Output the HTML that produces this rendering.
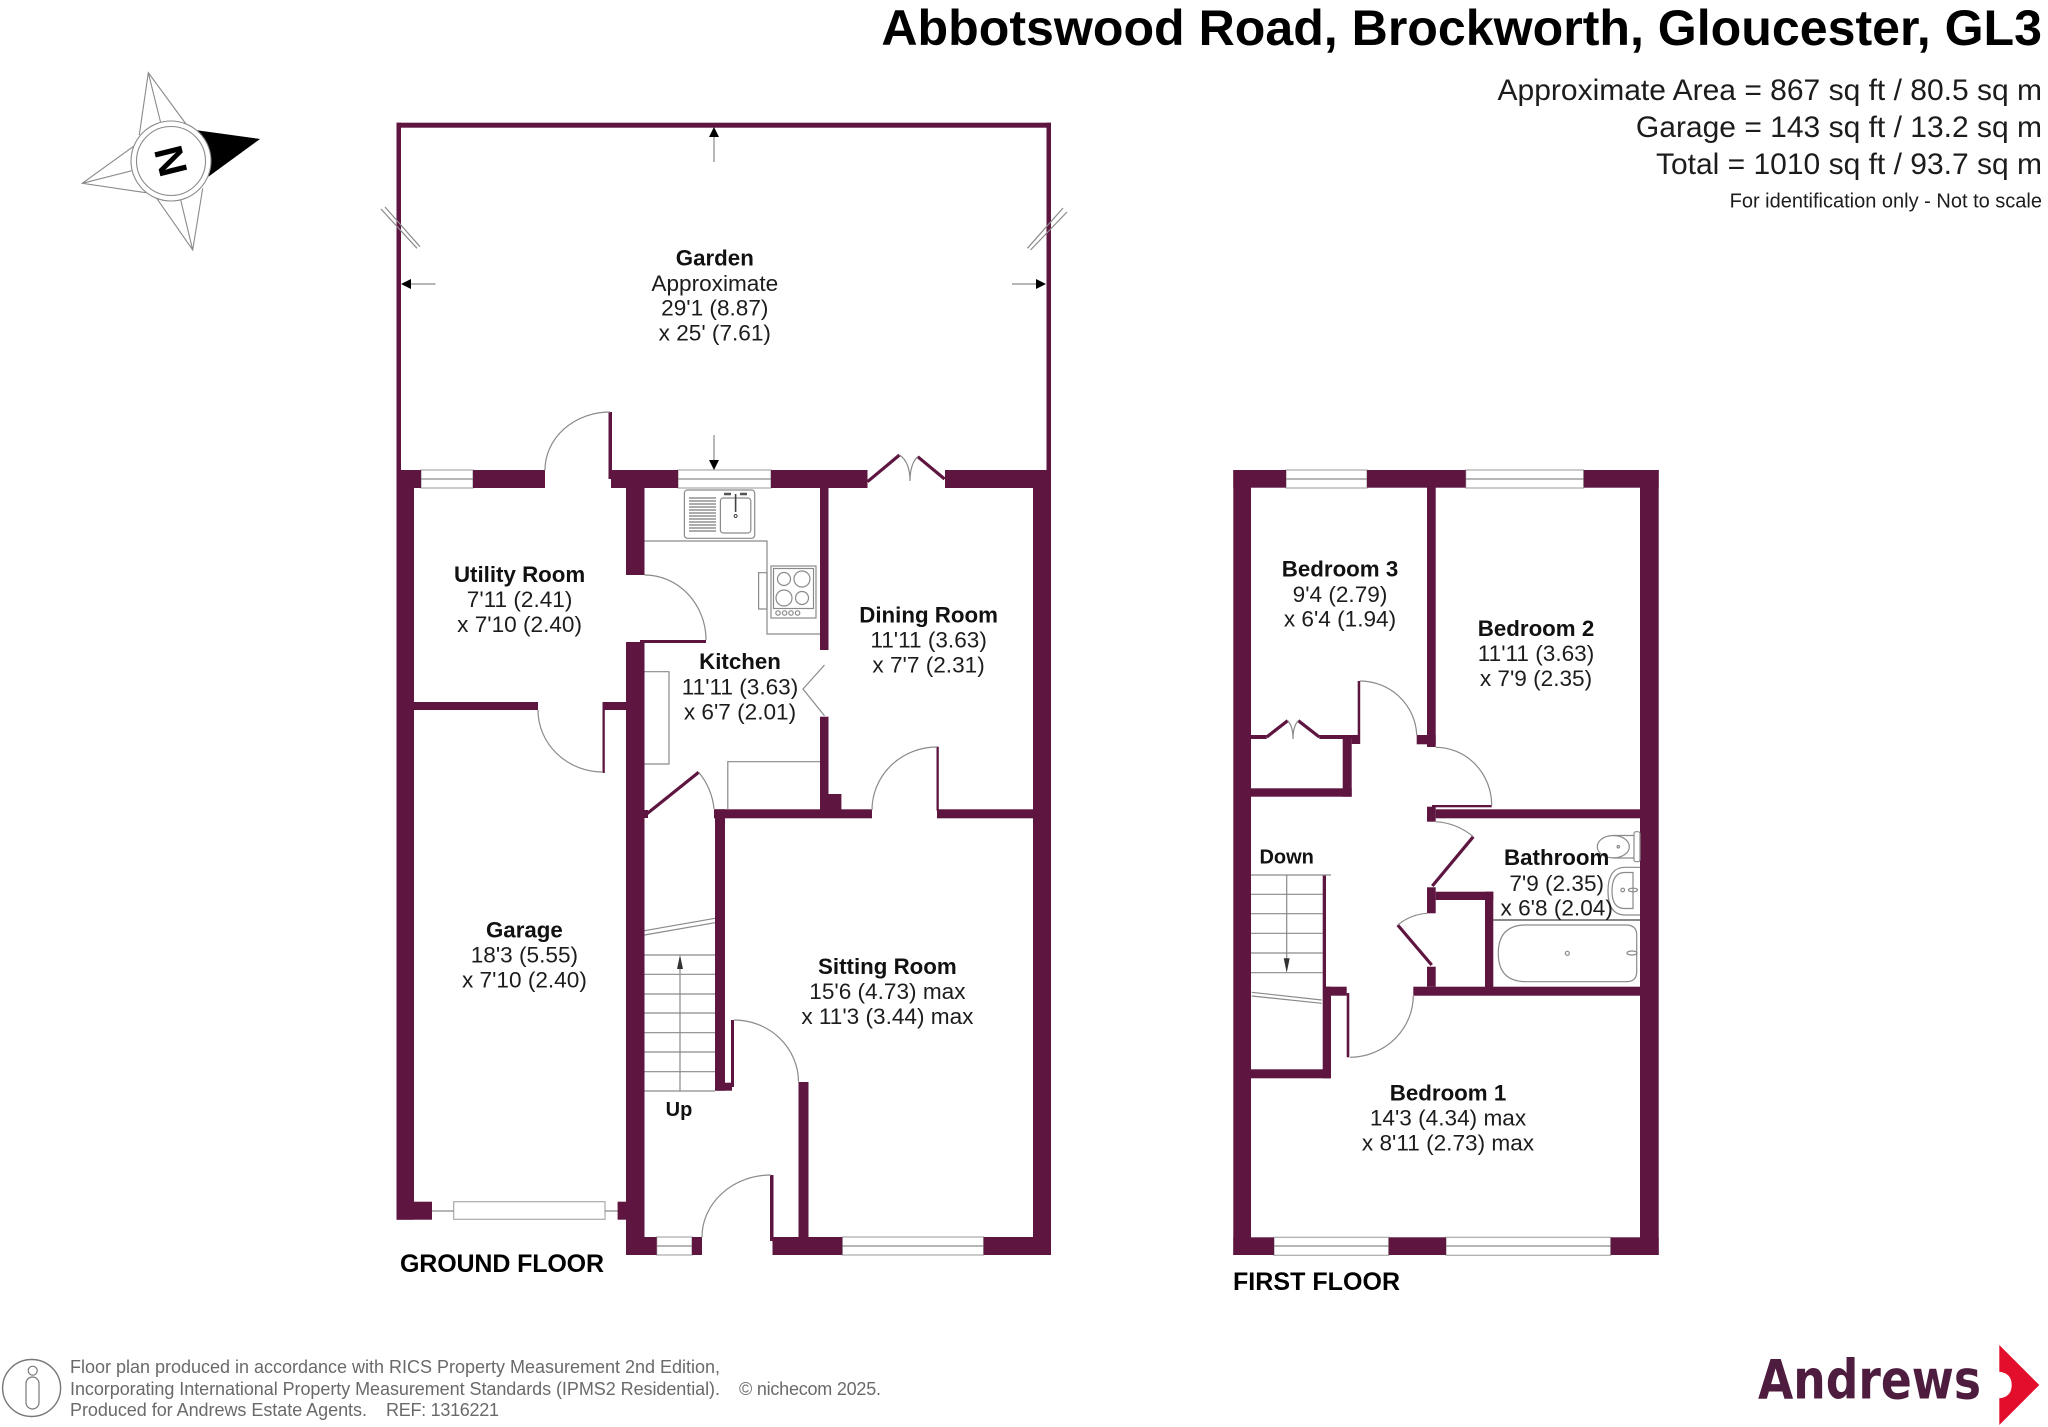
<!DOCTYPE html>
<html>
<head>
<meta charset="utf-8">
<style>
html,body{margin:0;padding:0;background:#fff}
svg{display:block}
text{font-family:"Liberation Sans",sans-serif;fill:#1c1c1c}
.r{font-size:22.6px;text-anchor:middle}
.b{font-size:22.3px;font-weight:bold;text-anchor:middle;fill:#111}
.w rect,.w path.f{fill:#5e1540}
.t{fill:none;stroke:#8a8a8a;stroke-width:1.2}
.w2{fill:#fff;stroke:#aaa;stroke-width:1.2}
.d{fill:none;stroke:#5e1540;stroke-width:3.2}
.g{fill:#6a6a6a;font-size:18px}
</style>
</head>
<body>
<svg width="2048" height="1427" viewBox="0 0 2048 1427" xmlns="http://www.w3.org/2000/svg">
<rect width="2048" height="1427" fill="#fff"/>

<!-- Title -->
<text x="2042" y="45" text-anchor="end" font-size="50.100" font-weight="bold" style="fill:#000">Abbotswood Road, Brockworth, Gloucester, GL3</text>
<text x="2042" y="100" text-anchor="end" font-size="30">Approximate Area = 867 sq ft / 80.5 sq m</text>
<text x="2042" y="137" text-anchor="end" font-size="30">Garage = 143 sq ft / 13.2 sq m</text>
<text x="2042" y="174" text-anchor="end" font-size="30">Total = 1010 sq ft / 93.7 sq m</text>
<text x="2042" y="207.500" text-anchor="end" font-size="20">For identification only - Not to scale</text>

<!-- Compass -->
<g>
<path d="M195 130L260 139L208.300 176.700Z" fill="#000"/>
<g fill="#fff" stroke="#8a8a8a" stroke-width="1.1">
<path d="M139.300 135L148.300 72.700L186 124M148.300 72.700L160.700 122.700" fill="none"/>
<path d="M134 146L82.300 183.300L146 192.700M82.300 183.300L131.700 170.700" fill="none"/>
<path d="M156 197.300L192.700 250L202.700 188.300M192.700 250L180.700 200" fill="none"/>
<circle cx="171" cy="161" r="40"/>
<circle cx="171" cy="161" r="34.500"/>
</g>
<text transform="translate(171 161) rotate(76) scale(1.05 1)" y="14" text-anchor="middle" font-size="40" font-weight="bold" style="fill:#000">N</text>
</g>

<!-- Windows ground -->
<g class="w2">
<rect x="421" y="470" width="52" height="18"/>
<rect x="678" y="470" width="93" height="18"/>
<rect x="656.700" y="1237" width="35.300" height="18"/>
<rect x="842.300" y="1237" width="141.300" height="18"/>
<rect x="453.700" y="1201.700" width="151.300" height="17.600"/>
<!-- first floor windows -->
<rect x="1286" y="470" width="81" height="18"/>
<rect x="1465.700" y="470" width="118" height="18"/>
<rect x="1274" y="1237.300" width="114.700" height="18"/>
<rect x="1446" y="1237.300" width="164.700" height="18"/>
</g>
<path class="t" d="M421 479H473M678 479H771M656.700 1246H692M842.300 1246H983.600M432 1211H453.700M605 1211H618M1286 479H1367M1465.700 479H1583.700M1274 1246H1388.700M1446 1246H1610.700"/>

<!-- Walls ground -->
<g class="w">
<rect x="396.500" y="122.700" width="654.500" height="5"/>
<rect x="396.500" y="122.700" width="4.500" height="350"/>
<rect x="1046.500" y="122.700" width="4.500" height="350"/>
<rect x="396.500" y="470" width="24.500" height="18"/>
<rect x="473" y="470" width="72" height="18"/>
<rect x="611" y="470" width="67" height="18"/>
<rect x="771" y="470" width="96.500" height="18"/>
<rect x="945" y="470" width="106" height="18"/>
<rect x="396.500" y="470" width="17.500" height="749.700"/>
<rect x="396.500" y="1201.700" width="35.500" height="18"/>
<rect x="1033" y="470" width="18" height="785"/>
<rect x="626" y="475" width="18.500" height="100"/>
<rect x="626" y="642" width="18.500" height="613"/>
<rect x="608.500" y="412" width="3.500" height="67"/>
<rect x="640" y="640" width="66" height="3"/>
<rect x="414" y="702" width="124" height="8"/>
<rect x="603" y="702" width="24" height="8"/>
<rect x="602.500" y="702" width="2.300" height="71"/>
<rect x="820" y="488" width="8.500" height="162"/>
<rect x="820" y="716.700" width="8.500" height="94"/>
<rect x="820" y="794" width="21.400" height="18"/>
<rect x="714" y="809.300" width="158" height="9"/>
<rect x="937" y="809.300" width="96" height="9"/>
<rect x="936.500" y="746.700" width="2.300" height="64"/>
<rect x="715" y="809.300" width="10" height="281.400"/>
<rect x="715" y="1082.700" width="17" height="8"/>
<rect x="731" y="1020" width="3" height="67"/>
<rect x="798.500" y="1082" width="10" height="160"/>
<rect x="626" y="1237" width="30.700" height="18"/>
<rect x="692" y="1237" width="10" height="18"/>
<rect x="772.500" y="1237" width="69.800" height="18"/>
<rect x="983.600" y="1237" width="67.400" height="18"/>
<rect x="770" y="1175" width="3.500" height="66"/>
<rect x="617.600" y="1201.700" width="9.400" height="18"/>
<rect x="644.500" y="810" width="3.500" height="8"/>

<!-- Walls first floor -->
<rect x="1233.300" y="470" width="17.700" height="785"/>
<rect x="1640" y="470" width="18.700" height="785"/>
<rect x="1233.300" y="470" width="52.700" height="17.700"/>
<rect x="1367" y="470" width="98.700" height="17.700"/>
<rect x="1583.700" y="470" width="75" height="17.700"/>
<rect x="1233.300" y="1237.300" width="40.700" height="17.700"/>
<rect x="1388.700" y="1237.300" width="57.300" height="17.700"/>
<rect x="1610.700" y="1237.300" width="48" height="17.700"/>
<rect x="1427" y="487" width="8.700" height="260"/>
<rect x="1416.700" y="735" width="19" height="9.300"/>
<rect x="1357.700" y="681" width="2.500" height="63"/>
<rect x="1251" y="735" width="15.700" height="4"/>
<rect x="1319.300" y="735" width="38.700" height="4"/>
<rect x="1351.700" y="735" width="6.300" height="9"/>
<rect x="1342.700" y="735" width="9" height="61.700"/>
<rect x="1251" y="788.300" width="100.700" height="8.400"/>
<rect x="1432" y="805" width="59.700" height="2.300"/>
<rect x="1435.700" y="809.300" width="204.300" height="9"/>
<rect x="1427" y="806.700" width="8.700" height="15"/>
<rect x="1427" y="887.300" width="8.700" height="26"/>
<rect x="1435.700" y="891.700" width="57.600" height="8.300"/>
<rect x="1485" y="891.700" width="8.300" height="100"/>
<rect x="1427" y="966.700" width="8.700" height="20"/>
<rect x="1413.300" y="986.700" width="226.700" height="9"/>
<rect x="1346.700" y="993" width="2.600" height="64.300"/>
<rect x="1326" y="986.700" width="20.700" height="9"/>
<rect x="1322.700" y="986.700" width="8.300" height="91.600"/>
<rect x="1322.700" y="875" width="3.300" height="112"/>
<rect x="1251" y="1069.300" width="80" height="9"/>
</g>

<!-- Thick door leaves -->
<g class="d">
<path d="M867.500 481.700L899.500 455M917.700 456.700L944.600 479"/>
<path d="M645.400 815L698.700 772.300"/>
<path d="M1266.700 737L1287.700 720.700M1298.300 720.700L1319.300 737"/>
<path d="M1473.300 836.700L1432.300 886"/>
<path d="M1397.700 925L1431.700 965"/>
</g>

<!-- Arcs + thin lines -->
<g class="t">
<path d="M545 470A65 58 0 0 1 610 412"/>
<path d="M644.500 575A61.500 65 0 0 1 706 640"/>
<path d="M538 710A65 62 0 0 0 603 772"/>
<path d="M698.700 772.300A68 68 0 0 1 714 809"/>
<path d="M872 810A65 63 0 0 1 937 747"/>
<path d="M734 1020A64.500 62 0 0 1 798.500 1081.700"/>
<path d="M702 1237A69 62 0 0 1 771 1175"/>
<path d="M1360 681A57 56 0 0 1 1416.700 735"/>
<path d="M1435.700 747.300A56 58 0 0 1 1491.700 805"/>
<path d="M1435.700 821.700A65 65 0 0 1 1473.300 836.700"/>
<path d="M1427 913.300A52 52 0 0 0 1397.700 925"/>
<path d="M1413.300 995.700A64 62 0 0 1 1350 1057.300"/>
<path d="M899.500 455Q910 462 910 481M917.700 456.700Q910 464 910 481"/>
<path d="M1287.700 720.700Q1293 726 1293 739M1298.300 720.700Q1293 726 1293 739"/>
<!-- bifold -->
<path d="M824.500 665L803 689L824.500 715.700"/>
<!-- kitchen -->
<path d="M644.500 541H767V634H820"/>
<path d="M758.600 572.700H767V609H758.600Z"/>
<path d="M644.500 671.700H669V764H644.500"/>
<path d="M727.800 809V761.700H820"/>
<rect x="684.400" y="490" width="70.300" height="48.300" rx="3"/>
<rect x="720.400" y="498" width="30.400" height="35" rx="3"/>
<rect x="771" y="566" width="45" height="52"/>
<rect x="773.500" y="568.500" width="40" height="40"/>
<circle cx="784" cy="579" r="6.500"/><circle cx="802" cy="579" r="8"/>
<circle cx="784" cy="598" r="8"/><circle cx="802" cy="598" r="6.500"/>
<circle cx="778" cy="613" r="2.200"/><circle cx="784.600" cy="613" r="2.200"/><circle cx="791" cy="613" r="2.200"/><circle cx="797.600" cy="613" r="2.200"/>
<!-- ground stairs -->
<path d="M644.500 955H715M644.500 974.300H715M644.500 994H715M644.500 1013H715M644.500 1032.700H715M644.500 1052H715M644.500 1071.700H715M644.500 1091H715"/>
<path d="M644.500 930.700L715 918.300M644.500 935L715 922.700"/>
<path d="M680 1091V960"/>
<!-- garden -->
<path d="M714 162V135M714 435V462M435.500 284H409M1012 284H1038"/>
<path d="M381 209L417 248.300M385 207L420 246.700M1027.400 248.300L1063 208M1030.500 250L1067 212"/>
<!-- first stairs -->
<path d="M1251 875H1331M1251 894.300H1322.700M1251 913.700H1322.700M1251 933.300H1322.700M1251 953H1322.700M1251 972.700H1322.700"/>
<path d="M1251.700 992.300L1321.700 1000M1251.700 996L1321.700 1003.300"/>
<path d="M1286.700 875V960"/>
<!-- bathroom -->
<path d="M1493.300 920H1640" stroke="#444"/>
<path d="M1526 925H1626Q1636.700 925 1636.700 935V971.700Q1636.700 981.700 1626 981.700H1526Q1498.300 981.700 1498.300 953.300Q1498.300 925 1526 925Z"/>
<circle cx="1567.300" cy="953.300" r="2"/>
<ellipse cx="1632" cy="953" rx="5" ry="2"/>
<path d="M1640 867.300H1625Q1608 867.300 1608 891Q1608 915 1625 915H1640"/>
<path d="M1633 872.500V908.500H1624Q1612 908 1612 891Q1612 873 1624 872.500Z"/>
<circle cx="1622.700" cy="890" r="1.800"/><ellipse cx="1633" cy="890" rx="4.500" ry="1.800"/>
<path d="M1613 835.500H1634M1613 858H1634"/>
<ellipse cx="1613.300" cy="846.700" rx="16" ry="11.200"/>
<rect x="1634" y="831.700" width="6" height="30" rx="2"/>
<circle cx="1618.300" cy="846.700" r="1.200"/>
</g>

<!-- Sink details -->
<path d="M689 498H716M689 501H716M689 504H716M689 507H716M689 510H716M689 513H716M689 516H716M689 519H716M689 522H716M689 525H716M689 528H716M689 531H716" stroke="#5a5a5a" stroke-width="1.1" fill="none"/>
<path d="M735.600 494V512" stroke="#444" stroke-width="1.6" fill="none"/>
<circle cx="735.600" cy="516" r="1.500" fill="none" stroke="#444"/>
<path d="M724 494H731M740 494H747" stroke="#555" stroke-width="2.500"/>

<!-- Arrowheads -->
<g fill="#000">
<path d="M714 127L719 137H709Z"/>
<path d="M714 470L719 460H709Z"/>
<path d="M401 284L411 279V289Z"/>
<path d="M1046 284L1036 279V289Z"/>
<path d="M680 955L683 969H677Z" fill="#333"/>
<path d="M1286.700 972.700L1283.700 958.300H1289.700Z" fill="#333"/>
</g>

<!-- Labels -->
<text class="b" x="714.800" y="265.700">Garden</text>
<text class="r" x="714.800" y="291">Approximate</text>
<text class="r" x="714.800" y="315.700">29'1 (8.87)</text>
<text class="r" x="714.800" y="340.700">x 25' (7.61)</text>

<text class="b" x="519.600" y="582">Utility Room</text>
<text class="r" x="519.600" y="607">7'11 (2.41)</text>
<text class="r" x="519.600" y="632">x 7'10 (2.40)</text>

<text class="b" x="928.600" y="622.300">Dining Room</text>
<text class="r" x="928.600" y="647.300">11'11 (3.63)</text>
<text class="r" x="928.600" y="672.300">x 7'7 (2.31)</text>

<text class="b" x="740" y="669">Kitchen</text>
<text class="r" x="740" y="694.300">11'11 (3.63)</text>
<text class="r" x="740" y="719.300">x 6'7 (2.01)</text>

<text class="b" x="524.400" y="937.300">Garage</text>
<text class="r" x="524.400" y="962.300">18'3 (5.55)</text>
<text class="r" x="524.400" y="987.300">x 7'10 (2.40)</text>

<text class="b" x="887.400" y="974">Sitting Room</text>
<text class="r" x="887.400" y="999">15'6 (4.73) max</text>
<text class="r" x="887.400" y="1024">x 11'3 (3.44) max</text>

<text class="b" x="679" y="1116" style="font-size:20px">Up</text>

<text x="400" y="1272" font-size="25" font-weight="bold" textLength="204" style="fill:#000">GROUND FLOOR</text>

<text class="b" x="1340" y="576.700">Bedroom 3</text>
<text class="r" x="1340" y="602">9'4 (2.79)</text>
<text class="r" x="1340" y="626.700">x 6'4 (1.94)</text>

<text class="b" x="1536" y="636">Bedroom 2</text>
<text class="r" x="1536" y="661">11'11 (3.63)</text>
<text class="r" x="1536" y="686">x 7'9 (2.35)</text>

<text class="b" x="1556.700" y="865">Bathroom</text>
<text class="r" x="1556.700" y="891">7'9 (2.35)</text>
<text class="r" x="1556.700" y="915.700">x 6'8 (2.04)</text>

<text class="b" x="1286.700" y="863.300" style="font-size:20px">Down</text>

<text class="b" x="1448" y="1100.700">Bedroom 1</text>
<text class="r" x="1448" y="1125.700">14'3 (4.34) max</text>
<text class="r" x="1448" y="1150.700">x 8'11 (2.73) max</text>

<text x="1233" y="1290" font-size="25" font-weight="bold" textLength="167" style="fill:#000">FIRST FLOOR</text>

<!-- Footer -->
<ellipse cx="31.600" cy="1388" rx="29" ry="28.500" fill="none" stroke="#777" stroke-width="1.4"/>
<circle cx="32.700" cy="1370.700" r="4.500" fill="none" stroke="#777" stroke-width="1.2"/>
<rect x="26" y="1377" width="13" height="32" rx="6.500" fill="none" stroke="#777" stroke-width="1.2"/>
<text class="g" x="70" y="1373" textLength="650">Floor plan produced in accordance with RICS Property Measurement 2nd Edition,</text>
<text class="g" x="70" y="1395" textLength="650">Incorporating International Property Measurement Standards (IPMS2 Residential).</text>
<text class="g" x="739" y="1395" textLength="142">© nichecom 2025.</text>
<text class="g" x="70" y="1416" textLength="297">Produced for Andrews Estate Agents.</text>
<text class="g" x="386" y="1416" textLength="113">REF: 1316221</text>

<!-- Logo -->
<text x="1758" y="1398.300" font-size="54" font-weight="bold" textLength="223" lengthAdjust="spacingAndGlyphs" style="font-family:'DejaVu Sans',sans-serif;fill:#4d1c3f">Andrews</text>
<path d="M1999.300 1345L2039.300 1385L1999.300 1425V1398.300Q2011.700 1397 2011.700 1385Q2011.700 1373 1999.300 1371.700Z" fill="#e30d2c"/>
</svg>
</body>
</html>
